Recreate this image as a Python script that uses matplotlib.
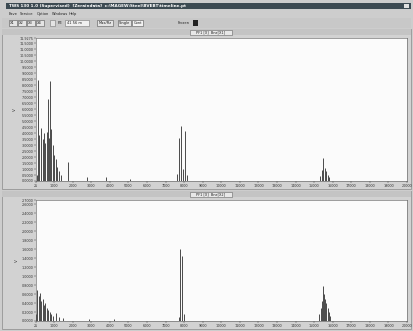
import matplotlib
matplotlib.use("Agg")
import matplotlib.pyplot as plt
from matplotlib.patches import Rectangle

# ---------------- data ----------------
x_ticks = [25] + list(range(1000, 20001, 1000))
x_tick_labels = [str(v) for v in x_ticks]

top_y_ticks = [i * 0.5 for i in range(24)]
top_y_max = 11.9275
bot_y_ticks = [i * 0.2 for i in range(14)]
bot_y_max = 2.7

top_x = [60, 130, 210, 290, 380, 450, 520, 600, 670, 740, 780, 850, 920, 1000,
         1080, 1150, 1250, 1350, 1750, 2750, 3800, 5100,
         7600, 7700, 7820, 7930, 8050, 8150,
         15300, 15400, 15480, 15560, 15640, 15720, 15800]
top_h = [0.5, 8.4, 3.8, 4.4, 3.5, 4.0, 3.2, 4.1, 6.8, 3.6, 8.3, 4.3, 3.0, 2.2,
         1.8, 1.2, 0.8, 0.5, 1.6, 0.3, 0.35, 0.15,
         0.6, 3.6, 4.6, 1.0, 4.2, 0.5,
         0.4, 0.9, 1.9, 1.1, 0.8, 0.5, 0.3]

bot_x = [40, 100, 170, 240, 310, 380, 450, 520, 600, 680, 760, 850, 950, 1100,
         1250, 1500, 2900, 4200,
         7700, 7800, 7900, 8000,
         15250, 15350, 15420, 15480, 15540, 15600, 15660, 15720, 15800, 15880]
bot_h = [0.15, 0.7, 0.55, 0.62, 0.45, 0.5, 0.35, 0.4, 0.3, 0.25, 0.2, 0.15, 0.12, 0.18,
         0.08, 0.06, 0.04, 0.05,
         0.1, 1.6, 1.45, 0.15,
         0.15, 0.3, 0.45, 0.77, 0.6, 0.5, 0.4, 0.3, 0.2, 0.12]

window_title = "TWS 130 1.0 (Supervised)  [Zeraindata]  c:\\MAGEW\\Steel\\BVEBT\\timeline.pt"
menu_items = ["Eave", "Service", "Option", "Windows", "Help"]
top_title = "PF1 [X]  Bne[X1]"
bot_title = "PF1 [X]  Bne[X2]"

# ---------------- figure ----------------
W, H = 413, 331
fig = plt.figure(figsize=(W / 100, H / 100), dpi=100)
fig.patch.set_facecolor("#cdcdcd")


def rect(x, y, w, h, fc, ec="none", lw=0.5, z=0):
    fig.add_artist(Rectangle((x / W, 1 - (y + h) / H), w / W, h / H,
                             transform=fig.transFigure, facecolor=fc,
                             edgecolor=ec, linewidth=lw, zorder=z))


def text(x, y, s, size=3.2, color="#222222", ha="left", **kw):
    fig.text(x / W, 1 - y / H, s, fontsize=size, color=color, ha=ha,
             va="center", **kw)


# title bar
rect(6, 3, 405, 6, "#3c4a52")
text(9, 6, window_title, size=3.0, color="white", weight="bold")
rect(404, 4, 5, 4, "#e0e0e0")
# menu
mx = 9
for m in menu_items:
    text(mx, 14, m, size=2.6)
    mx += len(m) * 1.9 + 3.5
# toolbar
rect(2, 18, 409, 10, "#c8c8c8")
for i, lab in enumerate(["X1", "X2", "X3", "X4"]):
    rect(9 + i * 9, 20, 7.5, 6, "#e4e4e4", ec="#555555", lw=0.4)
    text(12.75 + i * 9, 23, lab, size=2.6, ha="center")
rect(50, 20, 5, 6, "#e4e4e4", ec="#777777", lw=0.4)
text(58, 23, "PE", size=2.8)
rect(65, 20, 24, 6, "#f0f0f0", ec="#777777", lw=0.4)
text(67, 23, "41 56 m", size=2.6)
rect(97, 20, 16, 6, "#e4e4e4", ec="#555555", lw=0.4)
text(105, 23, "Max/Rz", size=2.6, ha="center")
rect(118, 20, 13, 6, "#e4e4e4", ec="#555555", lw=0.4)
text(124.5, 23, "Single", size=2.6, ha="center")
rect(132, 20, 11, 6, "#f2f2f2", ec="#555555", lw=0.4)
text(137.5, 23, "Cont", size=2.6, ha="center")
text(178, 23, "Frozen", size=2.6)
rect(193, 20, 5, 6, "#222222")

# panel frames
rect(2, 29, 409, 160, "#d2d2d2", ec="#8a8a8a", lw=0.5)
rect(2, 191, 409, 138, "#d2d2d2", ec="#8a8a8a", lw=0.5)
rect(2, 29, 409, 6, "#c4c4c4")
rect(2, 191, 409, 6, "#c4c4c4")
rect(190, 30, 42, 4.5, "#e8e8e8", ec="#666666", lw=0.4)
text(211, 32.3, top_title, size=2.5, ha="center")
rect(190, 192, 42, 4.5, "#e8e8e8", ec="#666666", lw=0.4)
text(211, 194.3, bot_title, size=2.5, ha="center")

x_min, x_max = 25, 20000


def make_axes(top, bottom, xs, hs, yticks, ymax, ytop_label):
    ax = fig.add_axes([36 / W, 1 - bottom / H, 371 / W, (bottom - top) / H])
    ax.set_facecolor("#fbfbfb")
    ax.vlines(xs, 0, hs, color="#2e2e2e", linewidth=0.6)
    ax.set_xlim(x_min, x_max)
    ax.set_ylim(0, ymax)
    ax.set_xticks(x_ticks)
    ax.set_xticklabels(x_tick_labels)
    ticks = list(yticks) + [ymax]
    ax.set_yticks(ticks)
    ax.set_yticklabels(["%.4f" % t for t in yticks] + [ytop_label])
    ax.tick_params(axis="both", labelsize=2.4, length=1.2, width=0.3,
                   pad=0.8, colors="#333333")
    for s in ax.spines.values():
        s.set_linewidth(0.4)
        s.set_color("#555555")
    ax.set_ylabel("V", fontsize=3, labelpad=1.5, color="#333333")
    return ax


make_axes(38, 181, top_x, top_h, top_y_ticks, top_y_max, "11.9275")
make_axes(200, 321, bot_x, bot_h, bot_y_ticks, bot_y_max, "2.7000")

fig.savefig("out.png", dpi=100, facecolor=fig.get_facecolor())
